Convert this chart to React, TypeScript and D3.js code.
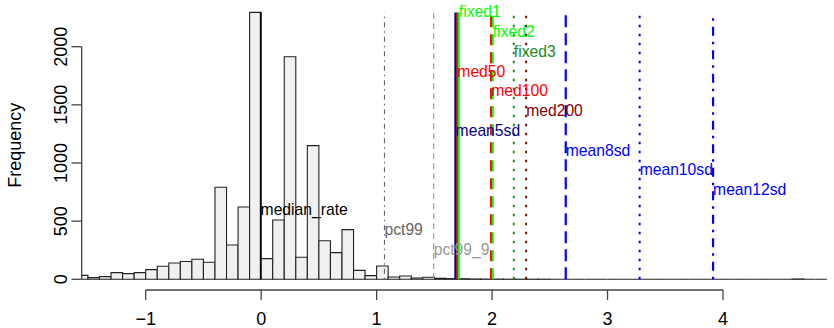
import * as d3 from "d3"

// histogram: bin width 0.1 starting at -1.6
const binStart = -1.6
const binWidth = 0.1
const counts = [
  34, 14, 23, 57, 49, 57, 83, 112, 140, 153, 172, 146, 791, 295, 622, 2295,
  178, 510, 1914, 189, 1149, 332, 229, 427, 77, 32, 115, 20, 29, 11, 17, 9,
  6, 5, 3, 2, 2, 1, 1, 1, 1,
  0, 0, 0, 0, 0, 0, 0, 0, 0, 0, 0, 0, 0, 0, 0, 0, 0, 0, 0, 0, 0,
  3, 0, 0
]

// reference lines (label order = stacking order of the labels)
const refNames = ["fixed1", "fixed2", "fixed3", "med50", "med100", "med200", "mean5sd", "mean8sd", "mean10sd", "mean12sd", "median_rate", "pct99", "pct99_9"]
const refValues = [1.712, 2.006, 2.188, 1.699, 1.993, 2.295, 1.684, 2.638, 3.278, 3.914, -0.005, 1.068, 1.494]
const refColors = ["#00FF00", "#00FF00", "#228B22", "#FF0000", "#FF0000", "#8B0000", "#00008B", "#0000FF", "#0000FF", "#0000FF", "#000000", "#666666", "#999999"]
const refDash = ["", "11 7", "2.5 6.5", "", "11 7", "2.5 6.5", "", "12 6", "2.5 6.5", "2.5 6 9 6", "", "1.5 4 5 4", "6 4"]
const refWidth = [2, 2, 2, 2, 2.5, 2, 2.5, 2.2, 2, 2.2, 1.5, 1.1, 1.1]
const drawOrder = [10, 11, 12, 6, 3, 0, 4, 1, 2, 5, 7, 8, 9]

const xTicks = [-1, 0, 1, 2, 3, 4]
const yTicks = [0, 500, 1000, 1500, 2000]

const W = 834
const H = 328
const font = "'Liberation Sans', Arial, Helvetica, sans-serif"

export default function App() {
  const x = d3.scaleLinear().domain([-1, 4]).range([145.7, 723])
  const y = d3.scaleLinear().domain([0, 2000]).range([279.3, 46.7])

  const maxCount = d3.max(counts) || 1
  const labelTop = 2300
  const labelStep = 170

  const fmt = d3.format("")

  return (
    <svg width={W} height={H} style={{ position: "absolute", left: 0, top: 0, background: "#fff" }} fontFamily={font}>
      <defs>
        <clipPath id="plot">
          <rect x={81.7} y={0} width={831 - 81.7} height={300} />
        </clipPath>
      </defs>

      <g clipPath="url(#plot)">
        {counts.map((c, i) => {
          const x0 = x(binStart + i * binWidth)
          const x1 = x(binStart + (i + 1) * binWidth)
          const y0 = y(0)
          const y1 = y(c)
          return (
            <path key={i}
              d={`M${x0},${y0}V${y1}H${x1}V${y0}Z`}
              fill="#F0F0F0" stroke="#222" strokeWidth={1.1} />
          )
        })}
      </g>

      {drawOrder.map(i => (
        <line key={refNames[i]}
          x1={x(refValues[i])} x2={x(refValues[i])}
          y1={y(0)} y2={y(maxCount)}
          stroke={refColors[i]} strokeWidth={refWidth[i]}
          strokeDasharray={refDash[i] || undefined} />
      ))}

      {refNames.map((name, i) => (
        <text key={name} x={x(refValues[i])} y={y(labelTop - i * labelStep)} dy="0.35em"
          fontSize={15.7} fill={refColors[i]}>{name}</text>
      ))}

      {/* y axis */}
      <line x1={81.7} x2={81.7} y1={y(yTicks[0])} y2={y(yTicks[yTicks.length - 1])} stroke="#444" strokeWidth={1.3} />
      {yTicks.map(t => (
        <g key={t}>
          <line x1={71.5} x2={81.7} y1={y(t)} y2={y(t)} stroke="#444" strokeWidth={1.3} />
          <text transform={`translate(66.7,${y(t)}) rotate(-90)`} textAnchor="middle" fontSize={18} fill="#000">{fmt(t)}</text>
        </g>
      ))}
      <text transform="translate(21,145.3) rotate(-90)" textAnchor="middle" fontSize={18} fill="#000">Frequency</text>

      {/* x axis */}
      <line x1={x(xTicks[0])} x2={x(xTicks[xTicks.length - 1])} y1={290} y2={290} stroke="#444" strokeWidth={1.3} />
      {xTicks.map(t => (
        <g key={t}>
          <line x1={x(t)} x2={x(t)} y1={290} y2={300} stroke="#444" strokeWidth={1.3} />
          <text x={x(t)} y={325} textAnchor="middle" fontSize={18} fill="#000">{fmt(t)}</text>
        </g>
      ))}
    </svg>
  )
}
